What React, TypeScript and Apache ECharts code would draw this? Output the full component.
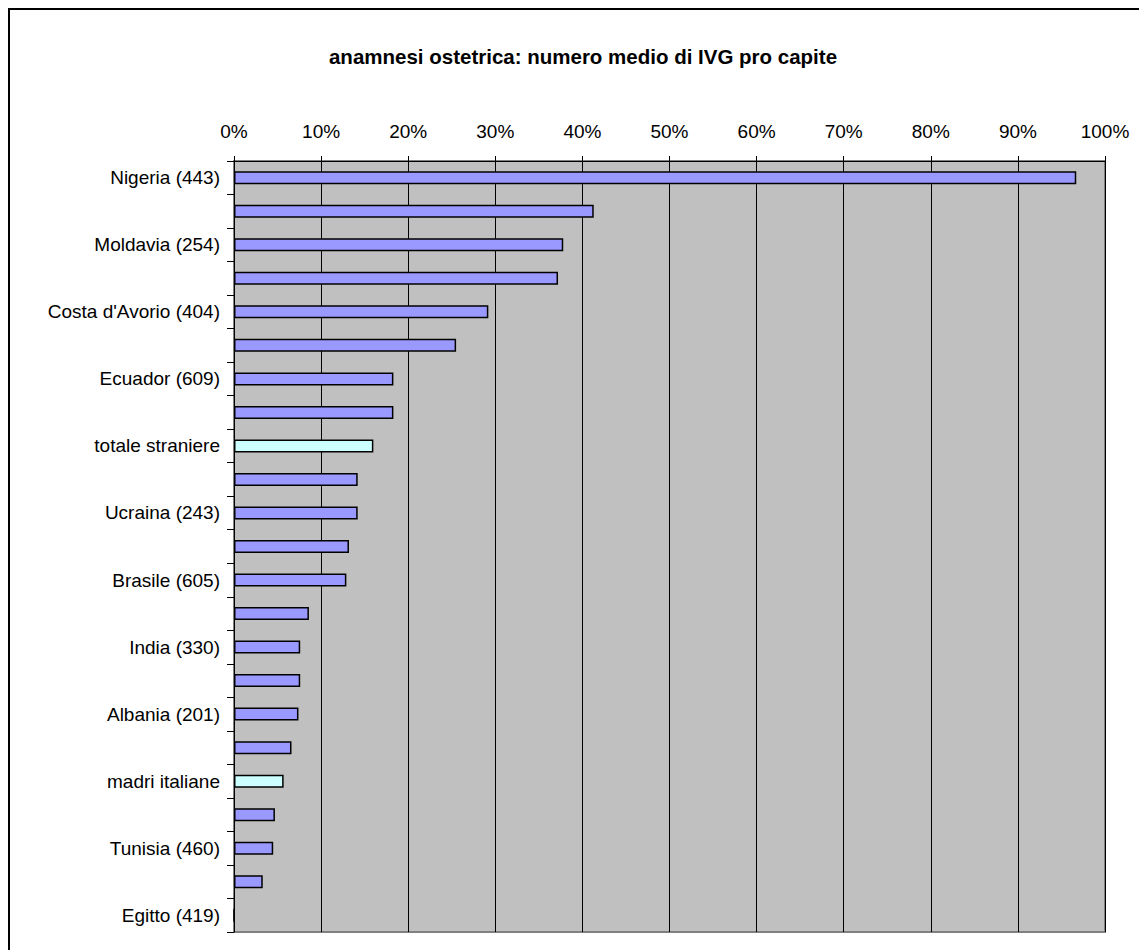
import React, { useEffect, useRef } from "react";
import * as echarts from "echarts";

const TITLE = "anamnesi ostetrica: numero medio di IVG pro capite";

const categories: string[] = [
  "Nigeria (443)", "",
  "Moldavia (254)", "",
  "Costa d'Avorio (404)", "",
  "Ecuador (609)", "",
  "totale straniere", "",
  "Ucraina (243)", "",
  "Brasile (605)", "",
  "India (330)", "",
  "Albania (201)", "",
  "madri italiane", "",
  "Tunisia (460)", "",
  "Egitto (419)",
];

const values: number[] = [
  0.967, 0.413,
  0.378, 0.372,
  0.292, 0.255,
  0.183, 0.183,
  0.160, 0.142,
  0.142, 0.132,
  0.129, 0.086,
  0.076, 0.076,
  0.074, 0.066,
  0.057, 0.047,
  0.045, 0.033,
  0,
];

const highlighted: string[] = ["totale straniere", "madri italiane"];

const xTicks: number[] = [0, 0.1, 0.2, 0.3, 0.4, 0.5, 0.6, 0.7, 0.8, 0.9, 1];

const FONT = "'Liberation Sans', Arial, sans-serif";

export default function App() {
  const ref = useRef<HTMLDivElement>(null);

  useEffect(() => {
    if (!ref.current) return;
    const prevOverflow = document.body.style.overflow;
    document.body.style.overflow = "hidden";
    const chart = echarts.init(ref.current, undefined, { renderer: "svg" });
    const data = values.map((v, i) => ({
      value: v,
      itemStyle: {
        color: highlighted.includes(categories[i]) ? "#CCFFFF" : "#9999FF",
      },
    }));
    chart.setOption({
      animation: false,
      backgroundColor: "#ffffff",
      textStyle: { fontFamily: FONT },
      graphic: [
        {
          type: "line",
          shape: { x1: 0, y1: 1, x2: 1139, y2: 1 },
          style: { stroke: "#000", lineWidth: 2 },
          silent: true,
          z: 100,
        },
        {
          type: "line",
          shape: { x1: 1, y1: 0, x2: 1, y2: 942 },
          style: { stroke: "#000", lineWidth: 2 },
          silent: true,
          z: 100,
        },
        {
          type: "text",
          x: 575,
          y: 48.5,
          style: {
            text: TITLE,
            fill: "#000",
            font: `bold 20.5px ${FONT}`,
            align: "center",
            verticalAlign: "middle",
          },
        },
      ],
      grid: {
        left: 226,
        top: 153,
        width: 871,
        height: 771,
        show: true,
        backgroundColor: "#C0C0C0",
        borderColor: "#808080",
        borderWidth: 2,
        containLabel: false,
      },
      xAxis: {
        type: "value",
        position: "top",
        min: xTicks[0],
        max: xTicks[xTicks.length - 1],
        interval: 0.1,
        axisLine: { show: true, lineStyle: { color: "#000", width: 1 } },
        axisTick: { show: true, length: 5, inside: false, lineStyle: { color: "#000" } },
        splitLine: { show: true, lineStyle: { color: "#000", width: 1 } },
        axisLabel: {
          formatter: (v: number) => `${Math.round(v * 100)}%`,
          fontSize: 19,
          color: "#000",
          fontFamily: FONT,
          margin: 20,
        },
      },
      yAxis: {
        type: "category",
        inverse: true,
        data: categories,
        axisLine: { show: true, lineStyle: { color: "#000", width: 1 } },
        axisTick: { show: true, length: 7, inside: false, alignWithLabel: false, interval: 0, lineStyle: { color: "#000" } },
        axisLabel: {
          interval: 0,
          fontSize: 19,
          color: "#000",
          fontFamily: FONT,
          margin: 14,
        },
      },
      series: [
        {
          type: "bar",
          data,
          barWidth: 13,
          itemStyle: { borderColor: "#000", borderWidth: 1.5 },
        },
      ],
    });
    return () => {
      chart.dispose();
      document.body.style.overflow = prevOverflow;
    };
  }, []);

  return <div ref={ref} style={{ width: 1139, height: 942, overflow: "hidden" }} />;
}
